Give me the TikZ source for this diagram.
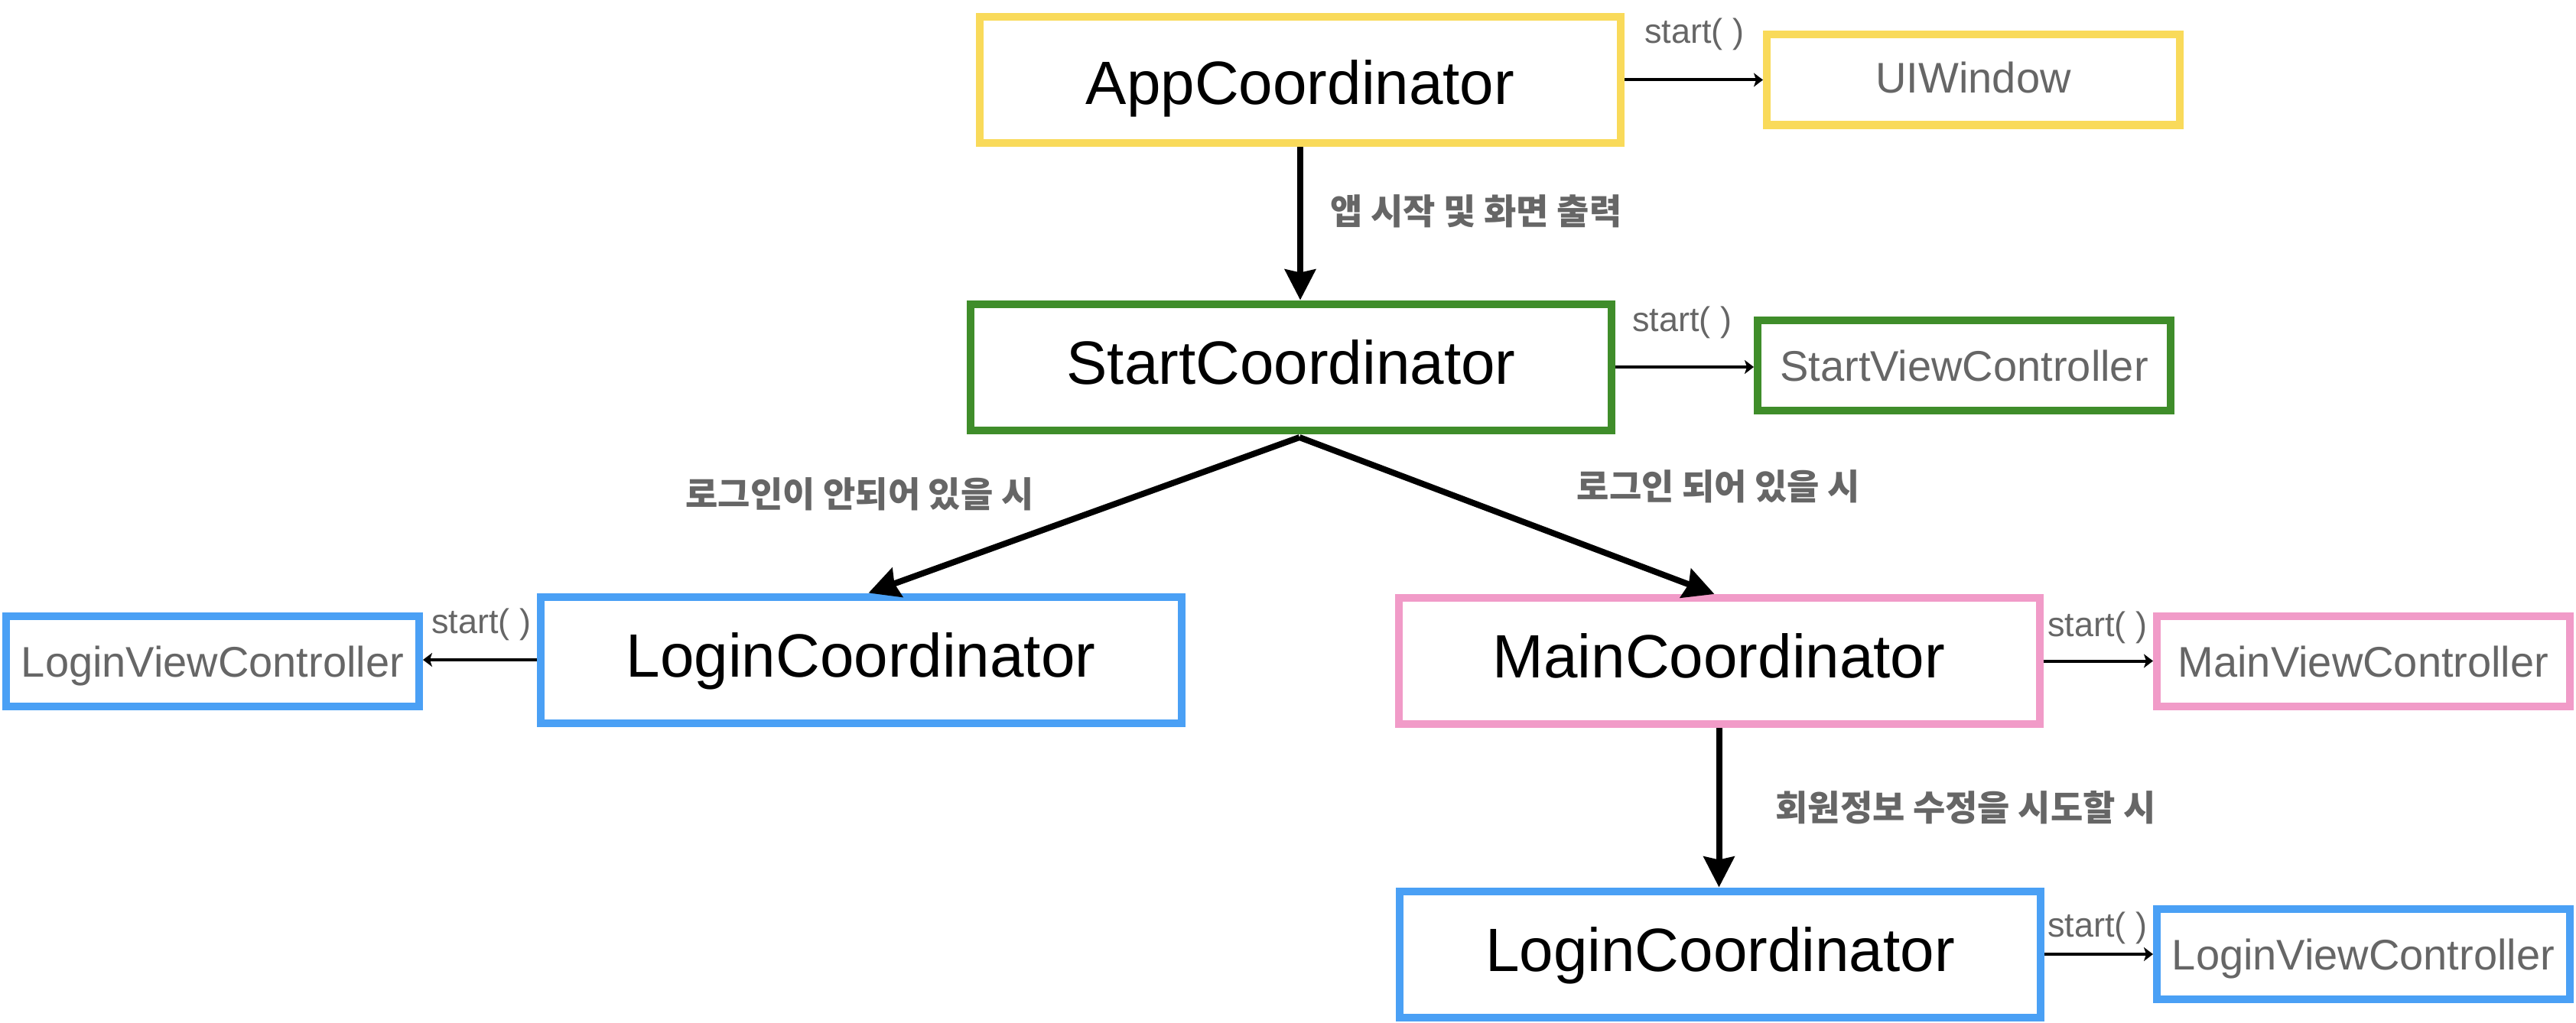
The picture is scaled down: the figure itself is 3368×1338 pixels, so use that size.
\documentclass[tikz,border=0pt]{standalone}
\usepackage{fontspec}
\setmainfont{Liberation Sans}
\newfontfamily\kr{Noto Sans CJK KR}
\usetikzlibrary{arrows.meta}
\definecolor{cyel}{HTML}{F9DA5A}
\definecolor{cgrn}{HTML}{3F8D2A}
\definecolor{cblu}{HTML}{4AA0F5}
\definecolor{cpnk}{HTML}{F19BC8}
\definecolor{cgry}{HTML}{666666}
\tikzset{
  bigbox/.style={draw, line width=5pt, minimum width=419pt, minimum height=82.5pt, inner sep=0pt, text height=28.6pt, text depth=6.6pt, font=\fontsize{40pt}{46pt}\selectfont, text=black},
  smallbox/.style={draw, line width=5pt, minimum width=270pt, minimum height=59pt, inner sep=0pt, text height=20.5pt, text depth=0pt, font=\fontsize{28pt}{32pt}\selectfont, text=cgry},
  thickarrow/.style={line width=4pt, -{Stealth[length=20pt,width=20pt,inset=2pt]}},
  thinarrow/.style={line width=2pt, -{Stealth[length=6pt,width=9pt,inset=1.5pt]}},
  startlbl/.style={anchor=base west, inner sep=0pt, text=cgry, font=\fontsize{22.5pt}{26pt}\selectfont},
  krlbl/.style={anchor=center, inner sep=0pt, text=cgry, font=\kr\bfseries\fontsize{23pt}{27pt}\selectfont}
}
\begin{document}
\begin{tikzpicture}[x=0.5pt, y=-0.5pt]
\useasboundingbox (0,0) rectangle (3368,1338);
% boxes
\node[bigbox, draw=cyel, text height=38.6pt] (app) at (1700,104.5) {AppCoordinator};
\node[smallbox, draw=cyel, text height=17pt] (uiw) at (2580,104.5) {UIWindow};
\node[bigbox, draw=cgrn] (start) at (1688,480) {StartCoordinator};
\node[smallbox, draw=cgrn] (svc) at (2568,478) {StartViewController};
\node[bigbox, draw=cblu] (login) at (1125.5,863) {LoginCoordinator};
\node[smallbox, draw=cblu] (lvc) at (278,865) {LoginViewController};
\node[bigbox, draw=cpnk] (main) at (2247.5,864.5) {MainCoordinator};
\node[smallbox, draw=cpnk] (mvc) at (3090,865) {MainViewController};
\node[bigbox, draw=cblu] (login2) at (2249,1248) {LoginCoordinator};
\node[smallbox, draw=cblu] (lvc2) at (3090,1248) {LoginViewController};
% thin arrows
\draw[thinarrow] (app.east) -- (uiw.west);
\draw[thinarrow] (start.east) -- (start.east -| svc.west);
\draw[thinarrow] (login.west) -- (login.west -| lvc.east);
\draw[thinarrow] (main.east) -- (main.east -| mvc.west);
\draw[thinarrow] (login2.east) -- (lvc2.west);
% start labels
\node[startlbl] (s1) at (2150,57) {start( )};
\node[startlbl] (s2) at (2134,433) {start( )};
\node[startlbl] (s3) at (564,828) {start( )};
\node[startlbl] (s4) at (2677,832) {start( )};
\node[startlbl] (s5) at (2677,1225) {start( )};
% thick arrows
\draw[thickarrow] (app.south) -- (app.south |- start.north);
\coordinate (fork) at (1699,572);
\draw[thickarrow] (fork) -- ([xshift=5pt]login.north);
\draw[thickarrow] (fork) -- ([xshift=-3pt]main.north);
\draw[thickarrow] (main.south) -- (main.south |- login2.north);
% korean labels
\node[krlbl] (k1) at (1930,276.5) {앱 시작 및 화면 출력};
\node[krlbl] (k2) at (1124,646) {로그인이 안되어 있을 시};
\node[krlbl] (k3) at (2247,636) {로그인 되어 있을 시};
\node[krlbl] (k4) at (2570,1056) {회원정보 수정을 시도할 시};
\end{tikzpicture}
\end{document}
